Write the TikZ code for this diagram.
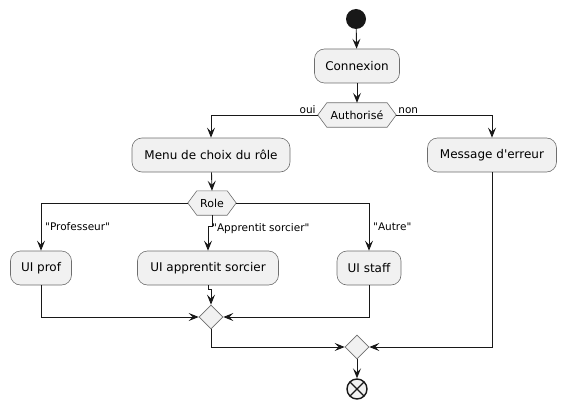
\documentclass[tikz,border=0pt]{standalone}
\usepackage{fontspec}
\newfontfamily\plainfont{DejaVu Sans}
\usetikzlibrary{arrows.meta,shapes.geometric}
\definecolor{boxfill}{HTML}{F1F1F1}
\definecolor{boxline}{HTML}{6E6E6E}
\definecolor{ink}{HTML}{181818}
\tikzset{
  act/.style={draw=boxline, fill=boxfill, rounded corners=10pt, line width=0.6pt,
    minimum height=34pt, inner xsep=8pt, font=\plainfont\fontsize{12}{14}\selectfont, text=black},
  hexa/.style={inner sep=0pt, minimum height=24pt, font=\plainfont\fontsize{11}{13}\selectfont},
  merge/.style={diamond, draw=boxline, fill=boxfill, line width=0.6pt, minimum width=24pt, minimum height=24pt, inner sep=0pt},
  conn/.style={draw=ink, line width=0.9pt, -{Stealth[length=10pt,width=8pt,inset=4pt]}},
  lbl/.style={font=\plainfont\fontsize{10.5}{12}\selectfont, inner sep=1pt}
}
\newcommand{\hexpath}[2]{%
  \fill[boxfill] ([xshift=#2]#1.north west) -- ([xshift=-#2]#1.north east) -- (#1.east) -- ([xshift=-#2]#1.south east) -- ([xshift=#2]#1.south west) -- (#1.west) -- cycle;
  \draw[boxline, line width=0.6pt] ([xshift=#2]#1.north west) -- ([xshift=-#2]#1.north east) -- (#1.east) -- ([xshift=-#2]#1.south east) -- ([xshift=#2]#1.south west) -- (#1.west) -- cycle;}
\begin{document}
\begin{tikzpicture}[x=1pt, y=-1pt]
\useasboundingbox (0,0) rectangle (567,409);
% start
\node[circle, fill=ink, minimum size=20pt, inner sep=0pt] (start) at (356,19) {};
\node[act, minimum width=85pt] (cx) at (357,66) {Connexion};
% Authorise hexagon
\node[hexa, minimum width=78pt] (auth) at (357,115) {};
\hexpath{auth}{9pt}
\node[hexa] at (auth) {Authorisé};
\node[act, minimum width=158pt] (menu) at (211,155) {Menu de choix du rôle};
\node[act, minimum width=129pt] (msg) at (492,155) {Message d'erreur};
% Role hexagon
\node[hexa, minimum width=48pt] (role) at (212,203) {};
\hexpath{role}{9pt}
\node[hexa] at (role) {Role};
\node[act, minimum width=61pt] (prof) at (41,268) {UI prof};
\node[act, minimum width=141pt] (appr) at (208,268) {UI apprentit sorcier};
\node[act, minimum width=64pt] (staff) at (369,268) {UI staff};
\node[merge] (m1) at (211,317) {};
\node[merge] (m2) at (357,347) {};
\node[circle, draw=ink, fill=boxfill, line width=1.4pt, minimum size=20pt, inner sep=0pt,
  path picture={\draw[ink, line width=1.4pt] (path picture bounding box.south west) -- (path picture bounding box.north east)
  (path picture bounding box.north west) -- (path picture bounding box.south east);}] (end) at (357,389) {};
% connectors
\draw[conn] (start) -- (cx);
\draw[conn] (cx) -- (auth.north);
\draw[conn] (auth.west) -| (menu.north);
\draw[conn] (auth.east) -| (msg.north);
\node[lbl, anchor=south east] at ([xshift=-1pt]auth.west) {oui};
\node[lbl, anchor=south west] at ([xshift=1pt]auth.east) {non};
\draw[conn] (menu) -- (role.north);
\draw[conn] (role.west) -| (prof.north);
\draw[conn] (role.south) -- ++(0,11) coordinate (rj) -| (appr.north);
\draw[conn] (role.east) -| (staff.north);
\node[lbl, anchor=west] at (44,227) {"Professeur"};
\node[lbl, anchor=west] at (211,229) {"Apprentit sorcier"};
\node[lbl, anchor=west] at (372,227) {"Autre"};
\draw[conn] (prof.south) |- (m1.west);
\draw[conn] (appr.south) -- ++(0,4) coordinate (aj) -| (m1.north);
\draw[conn] (staff.south) |- (m1.east);
\draw[conn] (m1.south) |- (m2.west);
\draw[conn] (msg.south) |- (m2.east);
\draw[conn] (m2) -- (end);
\end{tikzpicture}
\end{document}
